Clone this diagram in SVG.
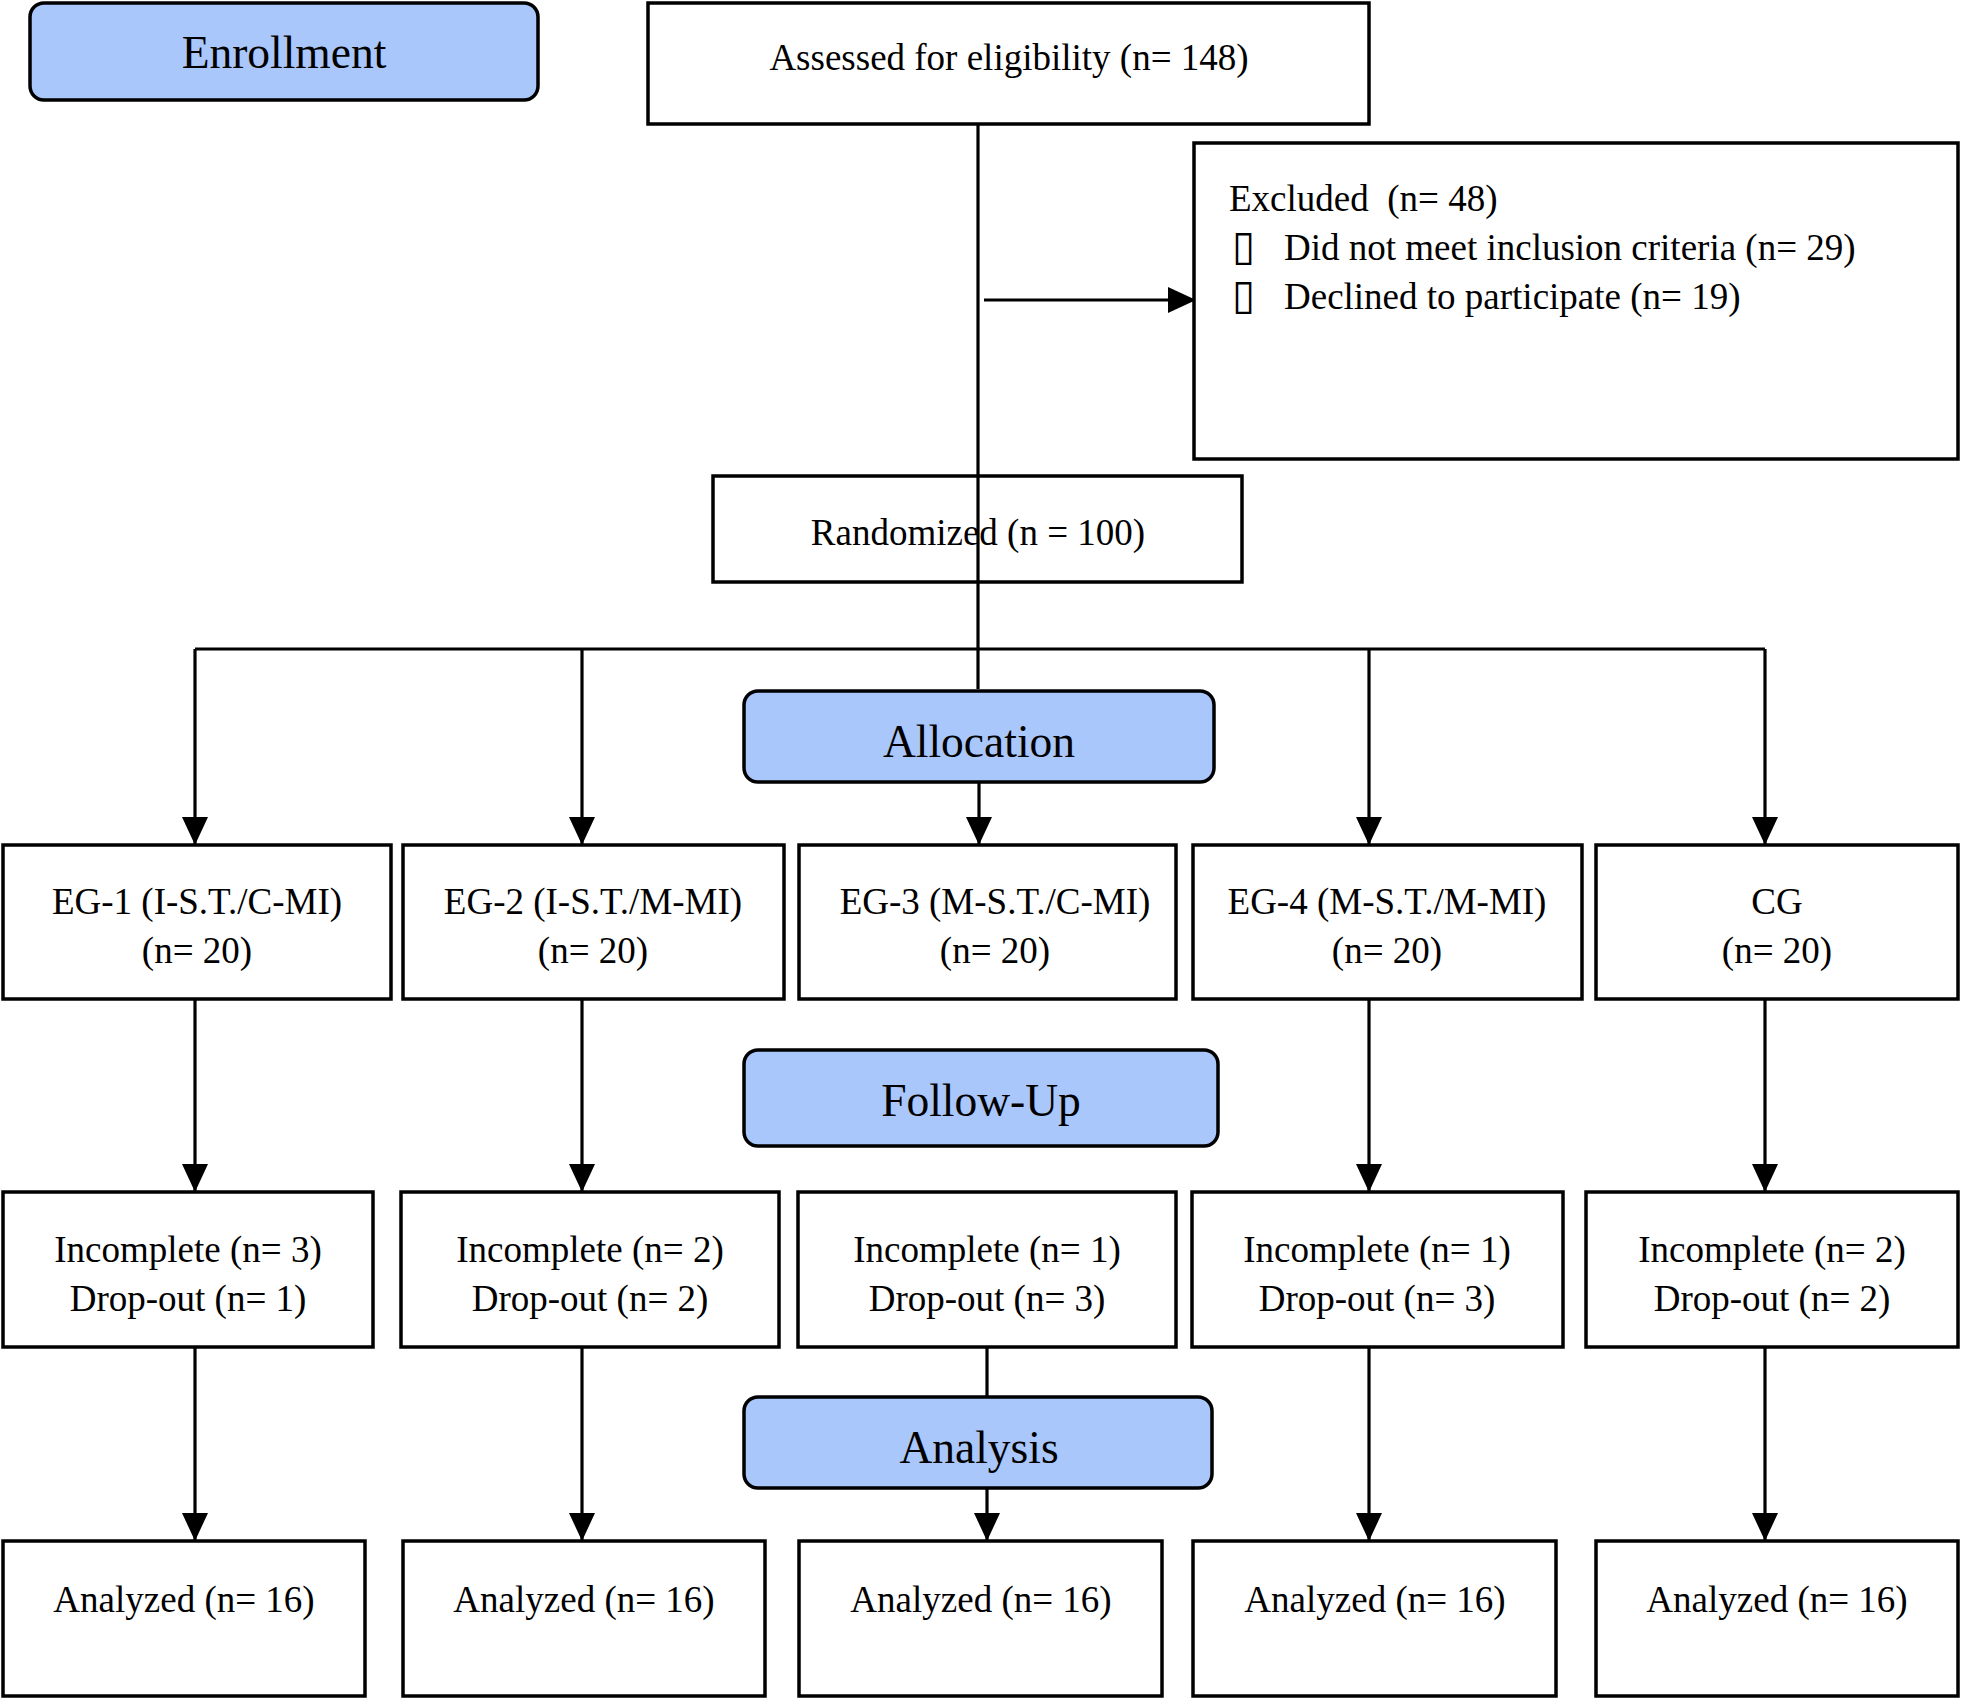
<svg xmlns="http://www.w3.org/2000/svg" width="1961" height="1698" viewBox="0 0 1961 1698">
<style>
  .box { fill: #ffffff; stroke: #000000; stroke-width: 3.5; }
  .hdr { fill: #a9c7fb; stroke: #000000; stroke-width: 3.5; }
  .t { font-family: "Liberation Serif", "Times New Roman", serif; font-size: 37px; fill: #000000; }
  .c { text-anchor: middle; }
  .h { font-family: "Liberation Serif", "Times New Roman", serif; font-size: 45.5px; fill: #000000; text-anchor: middle; }
  .sq { font-family: "DejaVu Sans", sans-serif; font-size: 42px; fill: #000000; }
  .ln { fill: none; stroke: #000000; stroke-width: 3.2; }
  .ar { fill: none; stroke: #000000; stroke-width: 3.2; marker-end: url(#ah); }
</style>
<defs>
  <marker id="ah" markerUnits="userSpaceOnUse" markerWidth="28" markerHeight="26" refX="28" refY="13" orient="auto" viewBox="0 0 28 26">
    <path d="M0,0 L28,13 L0,26 Z" fill="#000000"/>
  </marker>
</defs>

<g id="connectors">
  <path class="ln" d="M978,124 V689"/>
  <path class="ar" d="M984,300 H1196"/>
  <path class="ln" d="M195,649 H1765"/>
  <path class="ar" d="M195,649 V845"/>
  <path class="ar" d="M582,649 V845"/>
  <path class="ar" d="M979,782 V845"/>
  <path class="ar" d="M1369,649 V845"/>
  <path class="ar" d="M1765,649 V845"/>
  <path class="ar" d="M195,999 V1192"/>
  <path class="ar" d="M582,999 V1192"/>
  <path class="ar" d="M1369,999 V1192"/>
  <path class="ar" d="M1765,999 V1192"/>
  <path class="ar" d="M195,1347 V1541"/>
  <path class="ar" d="M582,1347 V1541"/>
  <path class="ln" d="M987,1347 V1397"/>
  <path class="ar" d="M987,1488 V1541"/>
  <path class="ar" d="M1369,1347 V1541"/>
  <path class="ar" d="M1765,1347 V1541"/>
</g>

<g id="enrollment">
  <rect class="hdr" x="30" y="3" width="508" height="97" rx="14"/>
  <text class="h" x="284" y="68">Enrollment</text>
</g>

<g id="assessed">
  <rect class="box" x="648" y="3" width="721" height="121"/>
  <text class="t c" x="1009" y="70">Assessed for eligibility (n= 148)</text>
</g>

<g id="excluded">
  <rect class="box" x="1194" y="143" width="764" height="316"/>
  <text class="t" x="1229" y="211" xml:space="preserve">Excluded  (n= 48)</text>
  <text class="sq" x="1232" y="260">▯</text>
  <text class="t" x="1284" y="260">Did not meet inclusion criteria (n= 29)</text>
  <text class="sq" x="1232" y="309">▯</text>
  <text class="t" x="1284" y="309">Declined to participate (n= 19)</text>
</g>

<g id="randomized">
  <rect class="box" x="713" y="476" width="529" height="106" fill-opacity="0"/>
  <text class="t c" x="978" y="545">Randomized (n = 100)</text>
</g>

<g id="allocation">
  <rect class="hdr" x="744" y="691" width="470" height="91" rx="14"/>
  <text class="h" x="979" y="757">Allocation</text>
</g>

<g id="eg1">
  <rect class="box" x="3" y="845" width="388" height="154"/>
  <text class="t c" x="197" y="914">EG-1 (I-S.T./C-MI)</text>
  <text class="t c" x="197" y="963">(n= 20)</text>
</g>
<g id="eg2">
  <rect class="box" x="403" y="845" width="381" height="154"/>
  <text class="t c" x="593" y="914">EG-2 (I-S.T./M-MI)</text>
  <text class="t c" x="593" y="963">(n= 20)</text>
</g>
<g id="eg3">
  <rect class="box" x="799" y="845" width="377" height="154"/>
  <text class="t c" x="995" y="914">EG-3 (M-S.T./C-MI)</text>
  <text class="t c" x="995" y="963">(n= 20)</text>
</g>
<g id="eg4">
  <rect class="box" x="1193" y="845" width="389" height="154"/>
  <text class="t c" x="1387" y="914">EG-4 (M-S.T./M-MI)</text>
  <text class="t c" x="1387" y="963">(n= 20)</text>
</g>
<g id="cg">
  <rect class="box" x="1596" y="845" width="362" height="154"/>
  <text class="t c" x="1777" y="914">CG</text>
  <text class="t c" x="1777" y="963">(n= 20)</text>
</g>

<g id="followup">
  <rect class="hdr" x="744" y="1050" width="474" height="96" rx="14"/>
  <text class="h" x="981" y="1116">Follow-Up</text>
</g>

<g id="fu1">
  <rect class="box" x="3" y="1192" width="370" height="155"/>
  <text class="t c" x="188" y="1262">Incomplete (n= 3)</text>
  <text class="t c" x="188" y="1311">Drop-out (n= 1)</text>
</g>
<g id="fu2">
  <rect class="box" x="401" y="1192" width="378" height="155"/>
  <text class="t c" x="590" y="1262">Incomplete (n= 2)</text>
  <text class="t c" x="590" y="1311">Drop-out (n= 2)</text>
</g>
<g id="fu3">
  <rect class="box" x="798" y="1192" width="378" height="155"/>
  <text class="t c" x="987" y="1262">Incomplete (n= 1)</text>
  <text class="t c" x="987" y="1311">Drop-out (n= 3)</text>
</g>
<g id="fu4">
  <rect class="box" x="1192" y="1192" width="371" height="155"/>
  <text class="t c" x="1377" y="1262">Incomplete (n= 1)</text>
  <text class="t c" x="1377" y="1311">Drop-out (n= 3)</text>
</g>
<g id="fu5">
  <rect class="box" x="1586" y="1192" width="372" height="155"/>
  <text class="t c" x="1772" y="1262">Incomplete (n= 2)</text>
  <text class="t c" x="1772" y="1311">Drop-out (n= 2)</text>
</g>

<g id="analysis">
  <rect class="hdr" x="744" y="1397" width="468" height="91" rx="14"/>
  <text class="h" x="979" y="1463">Analysis</text>
</g>

<g id="an1">
  <rect class="box" x="3" y="1541" width="362" height="155"/>
  <text class="t c" x="184" y="1612">Analyzed (n= 16)</text>
</g>
<g id="an2">
  <rect class="box" x="403" y="1541" width="362" height="155"/>
  <text class="t c" x="584" y="1612">Analyzed (n= 16)</text>
</g>
<g id="an3">
  <rect class="box" x="799" y="1541" width="363" height="155"/>
  <text class="t c" x="981" y="1612">Analyzed (n= 16)</text>
</g>
<g id="an4">
  <rect class="box" x="1193" y="1541" width="363" height="155"/>
  <text class="t c" x="1375" y="1612">Analyzed (n= 16)</text>
</g>
<g id="an5">
  <rect class="box" x="1596" y="1541" width="362" height="155"/>
  <text class="t c" x="1777" y="1612">Analyzed (n= 16)</text>
</g>
</svg>
